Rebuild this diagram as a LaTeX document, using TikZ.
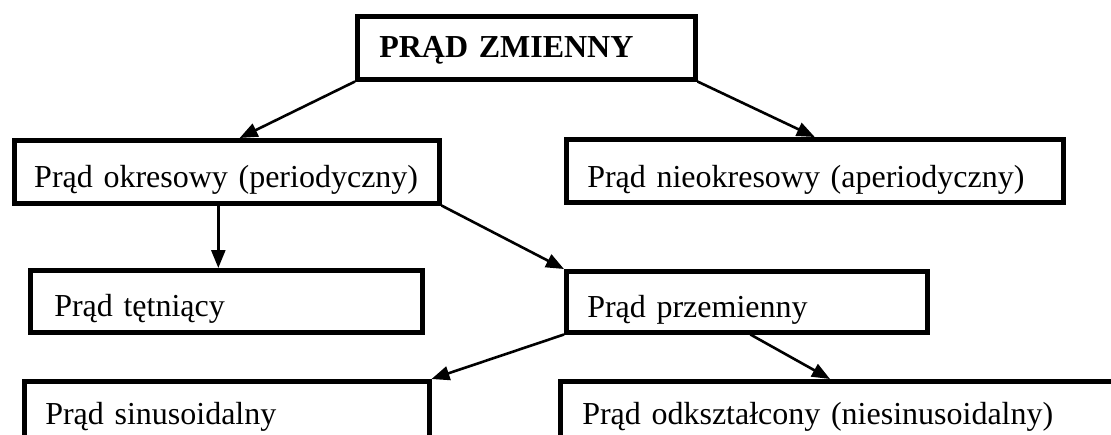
\documentclass[tikz,border=0pt]{standalone}
\usepackage{fontspec}
\setmainfont{Liberation Serif}
\usetikzlibrary{arrows.meta,calc}
\begin{document}
\begin{tikzpicture}[x=1pt,y=-1pt,
  box/.style={draw, line width=4.5pt, rectangle, anchor=north west,
    inner ysep=0pt, inner xsep=21pt, align=left,
    font=\fontsize{32}{38}\selectfont},
  conn/.style={line width=2.6pt, -{Triangle[length=18pt,width=14pt]}}]
\useasboundingbox (0,0) rectangle (1111,434);
\clip (0,0) rectangle (1111,434);
\node[box, inner xsep=22pt, text width=294pt, text height=41pt, text depth=22pt,
  font=\fontsize{32}{38}\selectfont\bfseries] (top) at (355,14) {PRĄD ZMIENNY};
\node[box, inner xsep=20pt, text width=385pt, text height=47pt, text depth=16pt] (okr) at (12,138) {Prąd okresowy (periodyczny)};
\node[box, text width=455pt, text height=48pt, text depth=15pt] (nieok) at (564,137) {Prąd nieokresowy (aperiodyczny)};
\node[box, inner xsep=24pt, text width=344pt, text height=46pt, text depth=16pt] (tet) at (28,268) {Prąd tętniący};
\node[box, text width=319pt, text height=46pt, text depth=15pt] (prz) at (564,269) {Prąd przemienny};
\node[box, text width=363pt, text height=43pt, text depth=40pt] (sin) at (22,379) {Prąd sinusoidalny};
\node[box, inner xsep=22pt, text width=530pt, text height=43pt, text depth=40pt] (odk) at (558,379) {Prąd odkształcony (niesinusoidalny)};
\coordinate (okrIn) at ($(okr.north west)!0.53!(okr.north east)$);
\coordinate (tetIn) at ($(tet.north west)!0.48!(tet.north east)$);
\coordinate (odkIn) at ([xshift=272pt]odk.north west);
\coordinate (przOut) at ($(prz.south west)!0.51!(prz.south east)$);
\draw[conn] (top.south west) -- (okrIn);
\draw[conn] (top.south east) -- (nieok.north);
\draw[conn] (okr.south -| tetIn) -- (tetIn);
\draw[conn] (okr.south east) -- (prz.north west);
\draw[conn] (prz.south west) -- (sin.north east);
\draw[conn] (przOut) -- (odkIn);
\end{tikzpicture}
\end{document}
